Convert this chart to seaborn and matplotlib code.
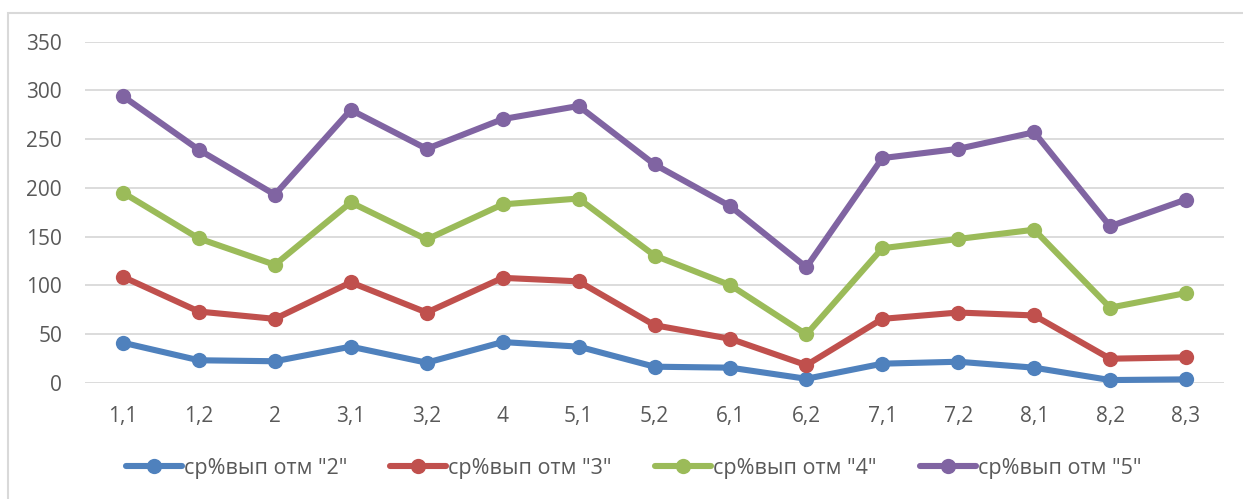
import pandas as pd
import seaborn as sns
import matplotlib.pyplot as plt
from matplotlib.patches import Rectangle

categories = ["1,1", "1,2", "2", "3,1", "3,2", "4", "5,1", "5,2",
              "6,1", "6,2", "7,1", "7,2", "8,1", "8,2", "8,3"]
otm2 = [41, 23, 22, 37, 20.5, 41.7, 37, 16.4, 15.4, 4, 19.5, 21.5, 15.4, 2.7, 3.4]
otm3 = [108.6, 73, 65.5, 103, 72, 107.6, 104, 59, 45, 18, 65.5, 72, 69, 24.6, 26]
otm4 = [195, 148, 121, 185, 147, 183, 189, 130.5, 100, 49.5, 138, 147.5, 157, 77, 92]
otm5 = [294, 239, 193, 280, 240, 270.5, 284, 224, 181, 118.5, 230.5, 240, 257, 160.5, 188]
series_names = ['ср%вып отм "2"', 'ср%вып отм "3"', 'ср%вып отм "4"', 'ср%вып отм "5"']
colors = ["#4F81BD", "#C0504D", "#9BBB59", "#8064A2"]

rows = []
for name, vals in zip(series_names, [otm2, otm3, otm4, otm5]):
    for c, v in zip(categories, vals):
        rows.append({"cat": c, "value": v, "series": name})
df = pd.DataFrame(rows)

sns.set_style("white")
plt.rcParams['font.family'] = ['Open Sans', 'DejaVu Sans']
text_color = "#595959"

fig = plt.figure(figsize=(12.43, 4.99), dpi=100)
ax = fig.add_axes([0.0684, 0.2331, 0.9163, 0.6834])

sns.lineplot(data=df, x="cat", y="value", hue="series", palette=colors,
             sort=False, errorbar=None, marker="o", markersize=11,
             markeredgewidth=0, linewidth=4.4, ax=ax, legend=False)
for ln in ax.lines:
    ln.set_clip_on(False)
    ln.set_solid_capstyle("round")
    ln.set_solid_joinstyle("round")

ax.set_ylim(0, 350)
ax.set_xlim(-0.5, len(categories) - 0.5)
ax.set_yticks(range(0, 351, 50))
ax.yaxis.grid(True, color="#D9D9D9", linewidth=1.3)
ax.set_axisbelow(True)
for s in ax.spines.values():
    s.set_visible(False)
ax.set_xlabel("")
ax.set_ylabel("")
ax.tick_params(axis="both", length=0, labelsize=15, labelcolor=text_color)
ax.tick_params(axis="y", pad=16.5)
ax.tick_params(axis="x", pad=17)

ax.legend(handles=ax.lines[:4], labels=series_names, loc="center",
          bbox_to_anchor=(0.5097, 0.0621), bbox_transform=fig.transFigure,
          ncol=4, frameon=False, fontsize=15.5, labelcolor=text_color,
          handlelength=2.6, handletextpad=0.1, columnspacing=2.0)

fig.patches.append(Rectangle((8 / 1243, -0.1), 1.2, 1.1 - 13 / 499,
                             transform=fig.transFigure, fill=False,
                             edgecolor="#D9D9D9", linewidth=1.5))

fig.savefig("out.png", dpi=100)
